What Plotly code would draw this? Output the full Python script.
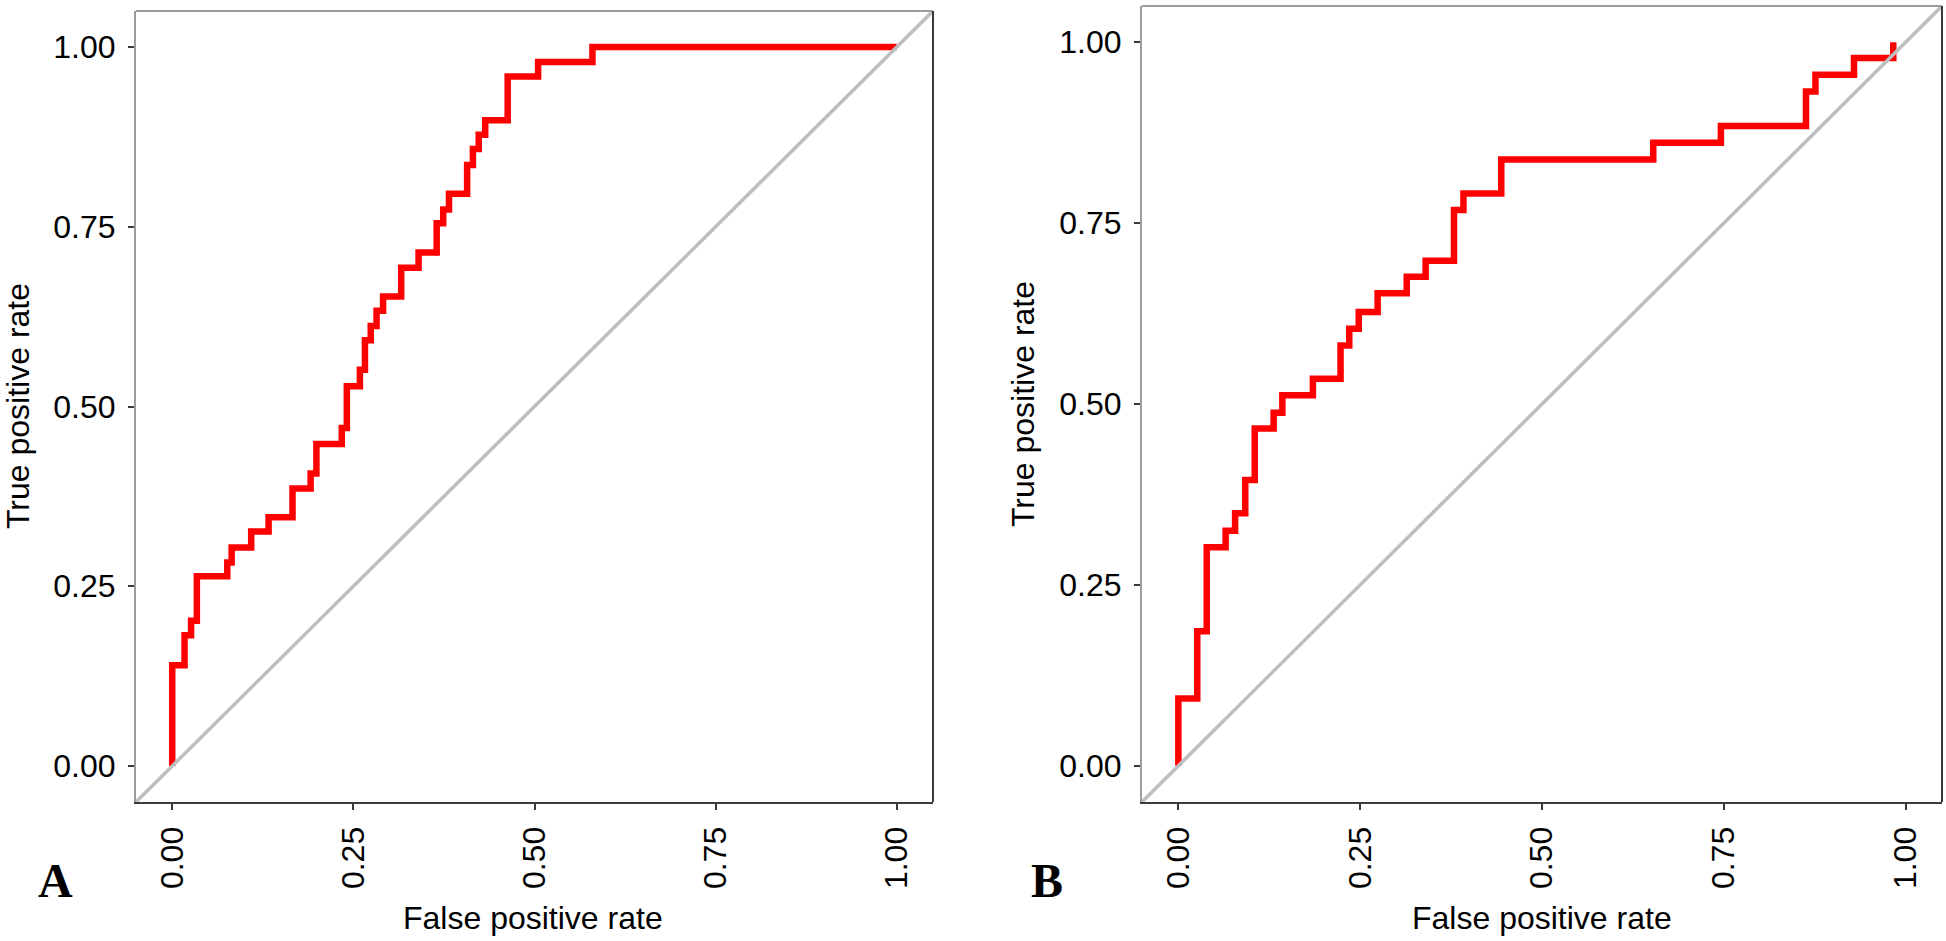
import plotly.graph_objects as go

# ---- data ----
fpr_a = [0.0, 0.0, 0.017, 0.026, 0.034, 0.076, 0.082, 0.109, 0.133, 0.166, 0.191, 0.199,
         0.234, 0.241, 0.259, 0.266, 0.274, 0.282, 0.291, 0.316, 0.340, 0.365, 0.374,
         0.382, 0.407, 0.415, 0.423, 0.432, 0.463, 0.505, 0.580, 1.0]
tpr_a = [0.0, 0.140, 0.182, 0.202, 0.264, 0.283, 0.304, 0.326, 0.346, 0.386, 0.407, 0.448,
         0.470, 0.528, 0.551, 0.592, 0.612, 0.633, 0.653, 0.693, 0.714, 0.755, 0.774,
         0.796, 0.836, 0.858, 0.878, 0.898, 0.959, 0.979, 1.0, 1.0]

fpr_b = [0.0, 0.0, 0.026, 0.039, 0.065, 0.078, 0.092, 0.105, 0.131, 0.143, 0.185, 0.223,
         0.235, 0.248, 0.274, 0.314, 0.340, 0.379, 0.392, 0.444, 0.653, 0.746, 0.863,
         0.876, 0.929, 0.983]
tpr_b = [0.0, 0.093, 0.186, 0.302, 0.325, 0.349, 0.395, 0.466, 0.488, 0.512, 0.535, 0.581,
         0.604, 0.627, 0.653, 0.676, 0.698, 0.768, 0.791, 0.838, 0.861, 0.884, 0.932,
         0.955, 0.978, 1.0]

ref_line = [-0.05, 1.05]          # chance diagonal (geom_abline) across the panel
tick_vals = [0, 0.25, 0.5, 0.75, 1.0]
tick_text = ["0.00", "0.25", "0.50", "0.75", "1.00"]
panel_labels = ["A", "B"]
x_title = "False positive rate"
y_title = "True positive rate"

W, H = 1946, 941
FONT = "Liberation Sans, Arial, sans-serif"
DARK = "#3a3a3a"
LIGHT = "#9c9c9c"

fig = go.Figure()
for i, (fx, ty) in enumerate([(fpr_a, tpr_a), (fpr_b, tpr_b)]):
    xa = "x" if i == 0 else "x2"
    ya = "y" if i == 0 else "y2"
    fig.add_trace(go.Scatter(x=fx, y=ty, mode="lines", xaxis=xa, yaxis=ya,
                             line=dict(color="#FF0000", width=6.5, shape="hv"),
                             showlegend=False))
    fig.add_trace(go.Scatter(x=ref_line, y=ref_line, mode="lines", xaxis=xa, yaxis=ya,
                             line=dict(color="#BEBEBE", width=3.5), hoverinfo="skip",
                             showlegend=False))

def px_x(p):
    return p / W

def px_y(p):
    return 1 - p / H

axis_common = dict(
    range=[-0.05, 1.05], tickvals=tick_vals, ticktext=tick_text,
    showgrid=False, zeroline=False, showline=True, linewidth=2,
    mirror=False, ticks="outside", ticklen=6, tickwidth=2, tickcolor=DARK,
    tickfont=dict(family=FONT, size=32, color="#000000"),
)

fig.update_layout(
    width=W, height=H,
    margin=dict(l=0, r=0, t=0, b=0),
    paper_bgcolor="white", plot_bgcolor="white",
    showlegend=False,
    xaxis=dict(domain=[px_x(136), px_x(933)], anchor="y", tickangle=-90, linecolor=DARK,
               ticklabelstandoff=4, **axis_common),
    yaxis=dict(domain=[px_y(802), px_y(11)], anchor="x", linecolor=LIGHT,
               ticklabelstandoff=6, **axis_common),
    xaxis2=dict(domain=[px_x(1142), px_x(1942)], anchor="y2", tickangle=-90, linecolor=DARK,
                ticklabelstandoff=4, **axis_common),
    yaxis2=dict(domain=[px_y(802), px_y(6)], anchor="x2", linecolor=LIGHT,
                ticklabelstandoff=6, **axis_common),
)

# panel border: top (light) and right (dark)
for xr, yr in [("x domain", "y domain"), ("x2 domain", "y2 domain")]:
    fig.add_shape(type="line", xref=xr, yref=yr, x0=0, y0=1, x1=1, y1=1,
                  line=dict(color=LIGHT, width=2), layer="above")
    fig.add_shape(type="line", xref=xr, yref=yr, x0=1, y0=0, x1=1, y1=1,
                  line=dict(color=DARK, width=2), layer="above")

ann = []
for cx, cy in [(533.4, 918), (1542.3, 918)]:
    ann.append(dict(text=x_title, x=px_x(cx), y=px_y(cy), xref="paper", yref="paper",
                    showarrow=False, xanchor="center", yanchor="middle",
                    font=dict(family=FONT, size=32, color="#000000")))
for cx, cy in [(18, 406), (1023, 404)]:
    ann.append(dict(text=y_title, x=px_x(cx), y=px_y(cy), xref="paper", yref="paper",
                    showarrow=False, xanchor="center", yanchor="middle", textangle=-90,
                    font=dict(family=FONT, size=32, color="#000000")))
for lab, cx in zip(panel_labels, [55, 1046.5]):
    ann.append(dict(text="<b>%s</b>" % lab, x=px_x(cx), y=px_y(880), xref="paper", yref="paper",
                    showarrow=False, xanchor="center", yanchor="middle",
                    font=dict(family="Liberation Serif, Times New Roman, serif", size=48,
                              color="#000000")))
fig.update_layout(annotations=ann)

fig.write_html("out.html", config={"displayModeBar": False},
               post_script="document.body.style.margin='0';document.body.style.overflow='hidden';")
